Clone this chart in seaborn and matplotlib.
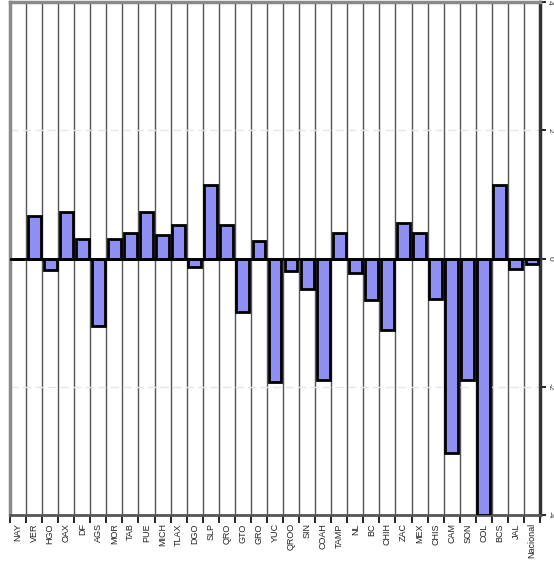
import numpy as np
import pandas as pd
import matplotlib
matplotlib.use("Agg")
import matplotlib.pyplot as plt
import seaborn as sns

sns.set_theme(style="white")
plt.rcParams["font.family"] = ["Liberation Sans", "DejaVu Sans"]

# Datos por entidad
estados = ["NAY", "VER", "HGO", "OAX", "DF", "AGS", "MOR", "TAB", "PUE", "MICH",
           "TLAX", "DGO", "SLP", "QRO", "GTO", "GRO", "YUC", "QROO", "SIN", "COAH",
           "TAMP", "NL", "BC", "CHIH", "ZAC", "MEX", "CHIS", "CAM", "SON", "COL",
           "BCS", "JAL", "Nacional"]
valores = [0.0, 0.67, -0.18, 0.73, 0.31, -1.05, 0.31, 0.39, 0.73, 0.36,
           0.53, -0.14, 1.14, 0.53, -0.84, 0.27, -1.92, -0.19, -0.47, -1.89,
           0.39, -0.22, -0.64, -1.11, 0.56, 0.39, -0.63, -3.03, -1.89, -4.0,
           1.14, -0.17, -0.08]
yticks = [-4, -2, 0, 2, 4]

df = pd.DataFrame({"estado": estados, "valor": valores})

fig = plt.figure(figsize=(5.54, 5.70), dpi=100)
ax = fig.add_axes([10 / 554, 55 / 570, 530 / 554, 513 / 570])

sns.barplot(data=df, x="estado", y="valor", color="#8f8ff2", saturation=1,
            edgecolor="black", linewidth=2, width=0.8, ax=ax, zorder=3)

n = len(estados)
ax.set_xlim(-0.5, n - 0.5)
ax.set_ylim(-4, 4)

# Líneas verticales entre categorías
for b in np.arange(0.5, n - 0.5, 1):
    ax.axvline(b, color="#555555", linewidth=1, zorder=1)
for yv in [-2, 2]:
    ax.axhline(yv, color="#e6e6e6", linewidth=1, linestyle=(0, (6, 3)), zorder=1)
ax.axhline(0, color="black", linewidth=2, zorder=4)

ax.set_xlabel("")
ax.set_ylabel("")
ax.set_xticks(range(n))
ax.set_xticklabels(estados, rotation=90, fontsize=6.5, color="#222222")
ax.tick_params(axis="x", which="major", length=0, pad=6)
ax.set_xticks(np.arange(-0.5, n, 1), minor=True)
ax.tick_params(axis="x", which="minor", length=6, width=1.2, color="black",
               direction="out", bottom=True)

ax.yaxis.tick_right()
ax.set_yticks(yticks)
ax.set_yticklabels([str(v) for v in yticks], rotation=-90, fontsize=6,
                   color="#333333", va="center")
ax.tick_params(axis="y", length=4, width=1.2, color="black", direction="out",
               right=True, pad=0.5)

for side in ["left", "top"]:
    ax.spines[side].set_color("#8a8a8a")
    ax.spines[side].set_linewidth(2.5)
ax.spines["right"].set_color("#333333")
ax.spines["right"].set_linewidth(2.5)
ax.spines["bottom"].set_color("#555555")
ax.spines["bottom"].set_linewidth(2)

fig.savefig("out.png", dpi=100)
